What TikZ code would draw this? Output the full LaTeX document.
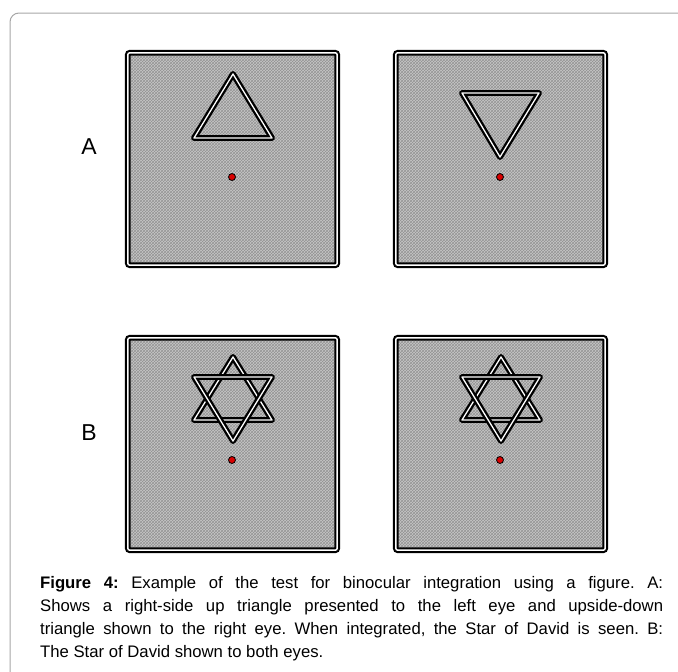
\documentclass[tikz,border=0pt]{standalone}
\usepackage{fontspec}
\setmainfont{Liberation Sans}
\usetikzlibrary{patterns}
\begin{document}
\begin{tikzpicture}[x=1pt,y=-1pt,
  panelfill/.style={fill=black!22},
  paneltex/.style={pattern=crosshatch, pattern color=black!42},
  panelrim/.style={draw=black, line width=2.1pt, double=white, double distance=1.5pt, rounded corners=2pt},
  shapeline/.style={draw=black, line width=2.3pt, double=white, double distance=1.3pt, line join=round},
  fixdot/.style={circle, fill=red!85!black, draw=black, line width=0.8pt, minimum size=7pt, inner sep=0pt},
  rowlabel/.style={font=\fontsize{23}{26}\selectfont, inner sep=0pt},
  frameline/.style={draw=black!35, line width=1pt, rounded corners=9pt}]
\useasboundingbox (0,0) rectangle (678,672);
\clip (0,0) rectangle (678,672);
\draw[frameline] (10,13) rectangle (740,740);
% panels
\foreach \px/\py/\nm in {125/50/pa, 393/50/pb, 125/335/pc, 393/335/pd}{
  \fill[panelfill] (\px+4.5,\py+4.5) rectangle (\px+210.5,\py+213.5);
  \fill[paneltex] (\px+4.5,\py+4.5) rectangle (\px+210.5,\py+213.5);
  \draw[panelrim] (\px+2.8,\py+2.8) rectangle (\px+212.2,\py+215.2);
  \coordinate (\nm) at (\px,\py);
}
% A left: up triangle
\draw[shapeline] (233,74) -- (272,138) -- (194,138) -- cycle;
% A right: down triangle
\draw[shapeline] (462,93) -- (539,93) -- (500,157) -- cycle;
% B left: star
\draw[shapeline] (233,357) -- (272,420) -- (194,420) -- cycle;
\draw[shapeline] (194,377) -- (272,377) -- (233,441) -- cycle;
% B right: star
\draw[shapeline] (501,357) -- (540,420) -- (462,420) -- cycle;
\draw[shapeline] (462,377) -- (540,377) -- (501,441) -- cycle;
% fixation dots
\node[fixdot] (d1) at (232,177) {};
\node[fixdot] (d2) at (500,177) {};
\node[fixdot] (d3) at (232,460) {};
\node[fixdot] (d4) at (500,460) {};
% labels
\node[rowlabel] (la) at (89,147) {A};
\node[rowlabel] (lb) at (89,433) {B};
% caption
\node[anchor=north west, inner sep=0pt, text width=623pt, align=justify,
      font=\fontsize{16.7}{23}\selectfont\frenchspacing] (cap) at (40,576)
  {\textbf{Figure 4:} Example of the test for binocular integration using a figure. A:\linebreak
   Shows a right-side up triangle presented to the left eye and upside-down\linebreak
   triangle shown to the right eye. When integrated, the Star of David is seen. B:\linebreak
   The Star of David shown to both eyes.};
\end{tikzpicture}
\end{document}
